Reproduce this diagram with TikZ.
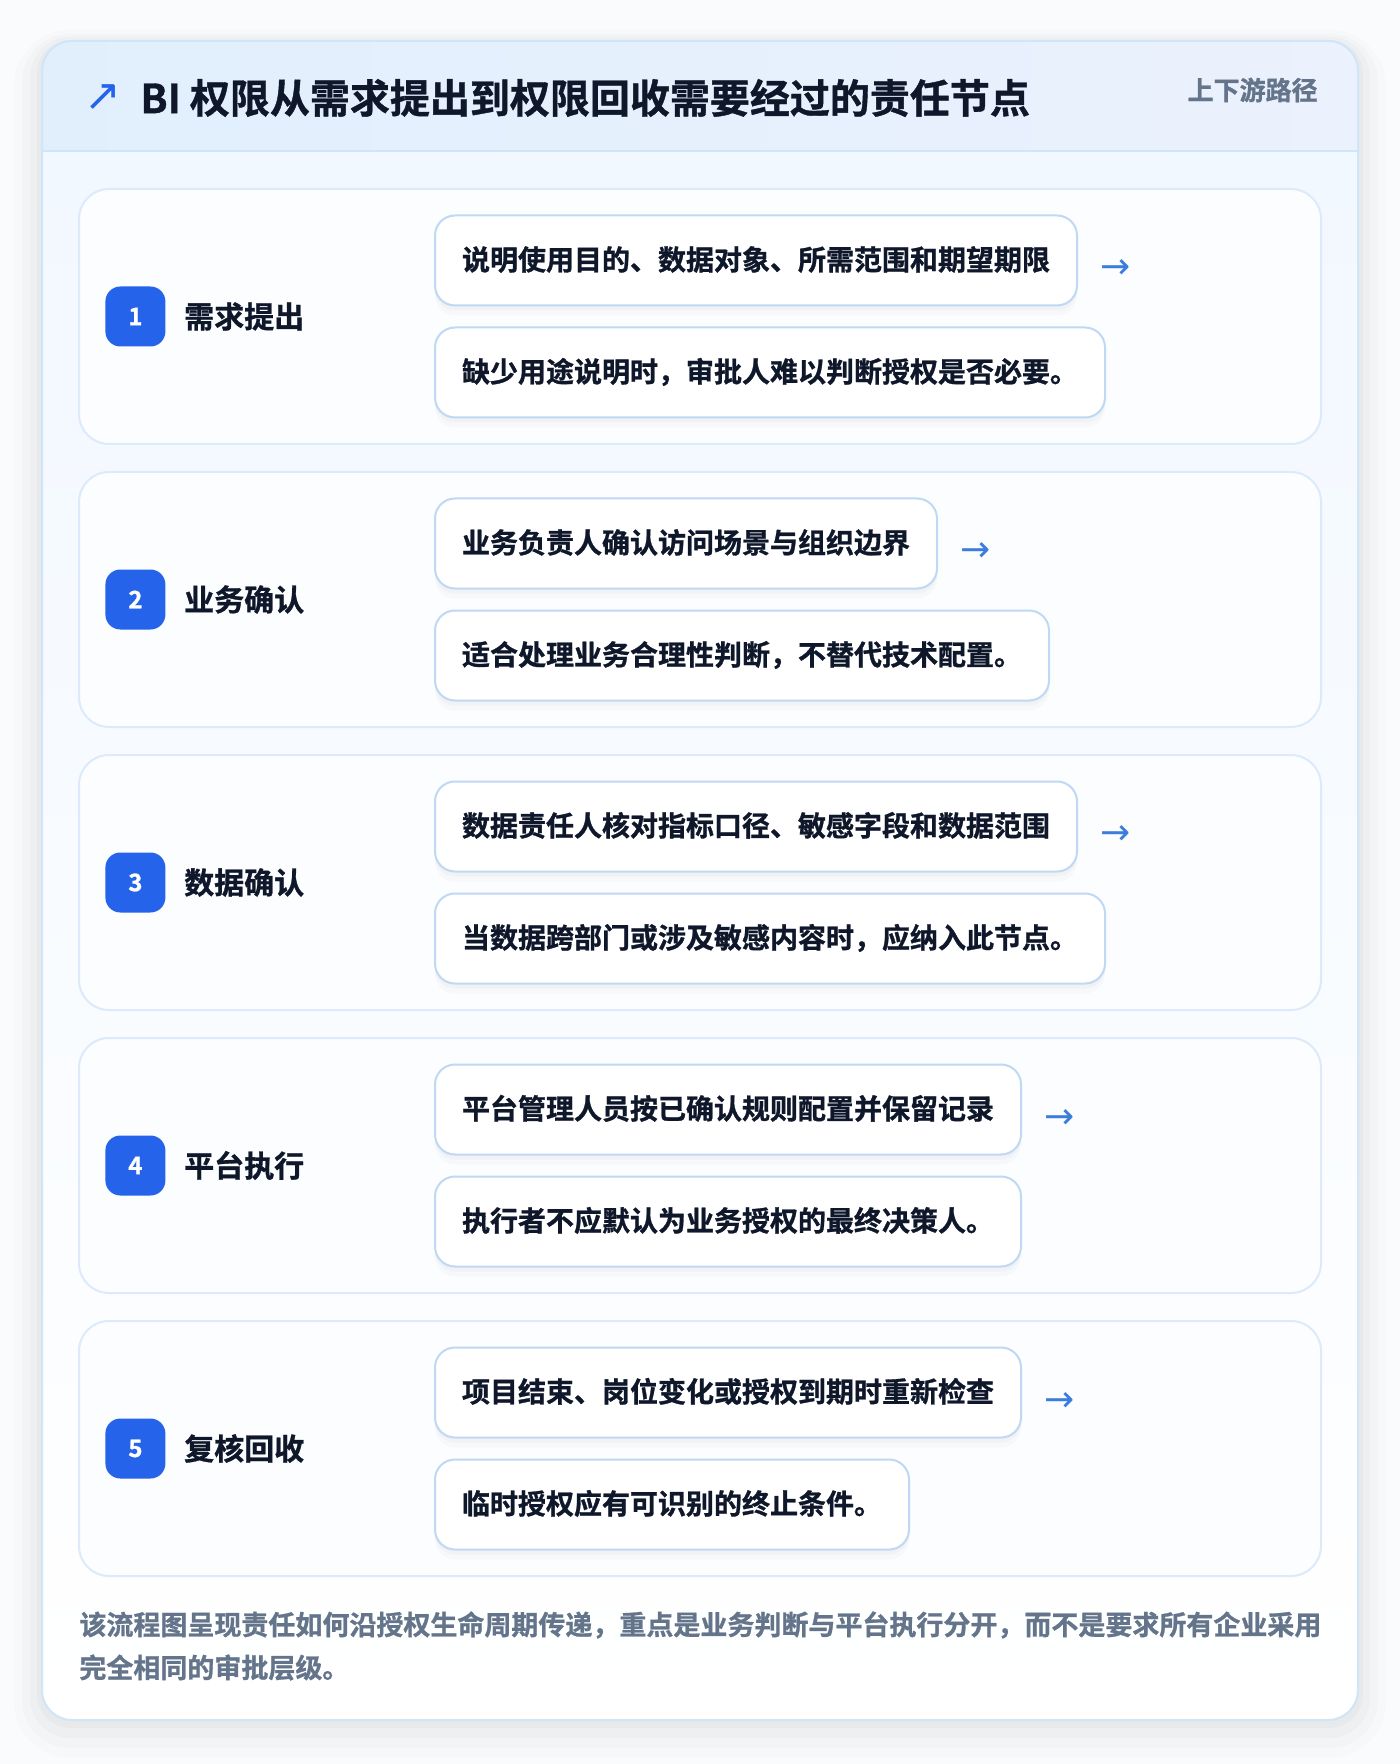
\documentclass[tikz,border=0pt]{standalone}
\usepackage{fontspec}
\setmainfont{Noto Sans CJK SC}[BoldFont={Noto Sans CJK SC Bold}, BoldFeatures={FakeBold=1}]
\newfontfamily\symbolfont{DejaVu Sans}
\usetikzlibrary{positioning,calc,shadows}

\definecolor{pagebg}{HTML}{FAFBFC}
\definecolor{cardline}{HTML}{CFE5F8}
\definecolor{headleft}{HTML}{E1EFFD}
\definecolor{headright}{HTML}{EBF1FD}
\definecolor{bodytop}{HTML}{F2F8FF}
\definecolor{stepline}{HTML}{DCEAFB}
\definecolor{stepfill}{HTML}{FBFDFF}
\definecolor{boxline}{HTML}{BFD8F5}
\definecolor{badgeblue}{HTML}{2563EB}
\definecolor{arrowblue}{HTML}{3B7DDD}
\definecolor{ink}{HTML}{0F172A}
\definecolor{muted}{HTML}{64748B}

\tikzset{
    stepcard/.style={
           rectangle, rounded corners=15pt,
           draw=stepline, line width=1pt, fill=stepfill,
           minimum width=621pt, minimum height=127.5pt},
    badge/.style={
           rectangle, rounded corners=7.5pt,
           fill=badgeblue, text=white,
           minimum width=30pt, minimum height=30pt,
           inner sep=0pt, font=\bfseries\fontsize{12pt}{12pt}\selectfont},
    steplabel/.style={
           inner sep=0pt, text=ink,
           font=\bfseries\fontsize{15pt}{15pt}\selectfont},
    notebox/.style={
           rectangle, rounded corners=10pt,
           draw=boxline, line width=1pt, fill=white,
           inner xsep=13.5pt, inner ysep=0pt,
           minimum height=45pt,
           text height=0.98em, text depth=0.02em,
           text=ink, font=\bfseries\fontsize{14pt}{14pt}\selectfont,
           drop shadow={shadow xshift=0pt, shadow yshift=-5pt, opacity=0.035},
           drop shadow={shadow xshift=0pt, shadow yshift=-2.5pt, opacity=0.045}},
    nextarrow/.style={
           inner sep=0pt, text=arrowblue,
           font=\symbolfont\fontsize{18pt}{18pt}\selectfont}
}

\begin{document}
\begin{tikzpicture}[x=0.5pt, y=-0.5pt, node distance=13pt]

        \useasboundingbox[fill=pagebg] (0,0) rectangle (1400,1764);

        % soft shadow, then the outer card with its header band
        \fill[black, opacity=0.012, rounded corners=28pt] (14,30) rectangle (1386,1758);
        \fill[black, opacity=0.015, rounded corners=24pt] (22,34) rectangle (1378,1748);
        \fill[black, opacity=0.02, rounded corners=20pt] (30,37) rectangle (1370,1738);
        \fill[black, opacity=0.025, rounded corners=17pt] (37,40) rectangle (1363,1728);
        \begin{scope}
            \clip[rounded corners=15pt] (42,41) rectangle (1358,1720);
            \shade[top color=bodytop, bottom color=white] (42,151) rectangle (1358,1720);
            \shade[left color=headleft, right color=headright] (42,41) rectangle (1358,151);
            \draw[cardline, line width=1pt] (42,151) -- (1358,151);
        \end{scope}
        \draw[cardline, line width=1pt, rounded corners=15pt] (42,41) rectangle (1358,1720);

        \node[anchor=west, inner sep=0pt, text=ink,
              font=\bfseries\fontsize{20pt}{20pt}\selectfont] (title) at (140,98)
              {BI 权限从需求提出到权限回收需要经过的责任节点};
        \node[left=9pt of title, inner sep=0pt, text=badgeblue,
              font=\symbolfont\fontsize{22pt}{22pt}\selectfont] (icon) {↗};
        \node[anchor=east, inner sep=0pt, text=muted,
              font=\bfseries\fontsize{13pt}{13pt}\selectfont] (route) at (1318,90) {上下游路径};

        % step cards
        \node[stepcard] (s1) at (700,316.5) {};
        \node[stepcard, below=of s1] (s2) {};
        \node[stepcard, below=of s2] (s3) {};
        \node[stepcard, below=of s3] (s4) {};
        \node[stepcard, below=of s4] (s5) {};

        \node[badge, right=13.5pt of s1.west] (b1) {1};
        \node[badge, right=13.5pt of s2.west] (b2) {2};
        \node[badge, right=13.5pt of s3.west] (b3) {3};
        \node[badge, right=13.5pt of s4.west] (b4) {4};
        \node[badge, right=13.5pt of s5.west] (b5) {5};

        \node[steplabel, right=9pt of b1] (l1) {需求提出};
        \node[steplabel, right=9pt of b2] (l2) {业务确认};
        \node[steplabel, right=9pt of b3] (l3) {数据确认};
        \node[steplabel, right=9pt of b4] (l4) {平台执行};
        \node[steplabel, right=9pt of b5] (l5) {复核回收};

        % what each node does, and the caveat below it
        \node[notebox, anchor=south west] (n1a) at ([xshift=178pt, yshift=5pt]s1.west)
              {说明使用目的、数据对象、所需范围和期望期限};
        \node[notebox, below=10pt of n1a.south west, anchor=north west] (n1b)
              {缺少用途说明时，审批人难以判断授权是否必要。};
        \node[notebox, anchor=south west] (n2a) at ([xshift=178pt, yshift=5pt]s2.west)
              {业务负责人确认访问场景与组织边界};
        \node[notebox, below=10pt of n2a.south west, anchor=north west] (n2b)
              {适合处理业务合理性判断，不替代技术配置。};
        \node[notebox, anchor=south west] (n3a) at ([xshift=178pt, yshift=5pt]s3.west)
              {数据责任人核对指标口径、敏感字段和数据范围};
        \node[notebox, below=10pt of n3a.south west, anchor=north west] (n3b)
              {当数据跨部门或涉及敏感内容时，应纳入此节点。};
        \node[notebox, anchor=south west] (n4a) at ([xshift=178pt, yshift=5pt]s4.west)
              {平台管理人员按已确认规则配置并保留记录};
        \node[notebox, below=10pt of n4a.south west, anchor=north west] (n4b)
              {执行者不应默认为业务授权的最终决策人。};
        \node[notebox, anchor=south west] (n5a) at ([xshift=178pt, yshift=5pt]s5.west)
              {项目结束、岗位变化或授权到期时重新检查};
        \node[notebox, below=10pt of n5a.south west, anchor=north west] (n5b)
              {临时授权应有可识别的终止条件。};

        \node[nextarrow, right=11pt of n1a, yshift=-4.5pt] (r1) {→};
        \node[nextarrow, right=11pt of n2a, yshift=-4.5pt] (r2) {→};
        \node[nextarrow, right=11pt of n3a, yshift=-4.5pt] (r3) {→};
        \node[nextarrow, right=11pt of n4a, yshift=-4.5pt] (r4) {→};
        \node[nextarrow, right=11pt of n5a, yshift=-4.5pt] (r5) {→};

        \node[anchor=north west, inner sep=0pt, align=left, text=muted,
              font=\bfseries\fontsize{13.5pt}{21.5pt}\selectfont] (note) at (79,1611)
              {该流程图呈现责任如何沿授权生命周期传递，重点是业务判断与平台执行分开，而不是要求所有企业采用\\完全相同的审批层级。};

\end{tikzpicture}
\end{document}
